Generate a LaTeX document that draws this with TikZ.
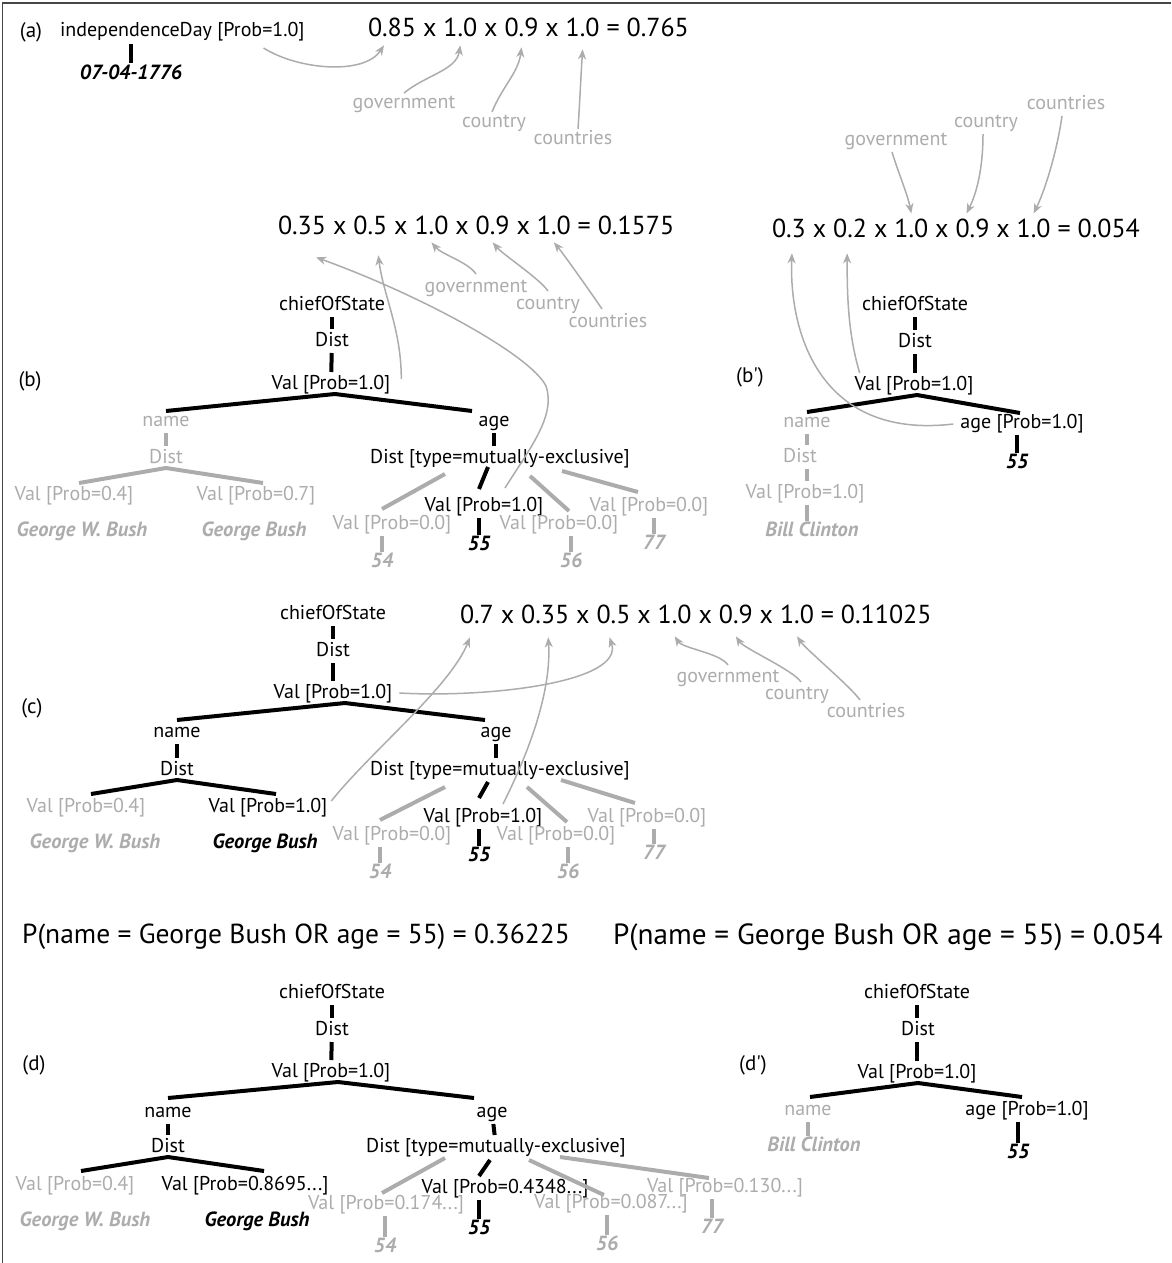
\documentclass[tikz,border=0pt]{standalone}
\usepackage{fontspec}
\setmainfont{PT Sans}
\usetikzlibrary{arrows.meta,calc}
\definecolor{lgr}{RGB}{172,172,172}
\definecolor{frm}{RGB}{70,70,70}
\newcommand\xx{\ x\ \mbox{}}
\tikzset{
 tx/.style={inner sep=1pt, outer sep=0pt, font=\fontsize{20}{20}\selectfont, text height=14pt, text depth=4pt},
 tg/.style={tx, text=lgr},
 lf/.style={inner sep=1pt, outer sep=0pt, font=\fontsize{20.5}{20.5}\selectfont\bfseries\itshape, text height=13pt, text depth=0pt},
 lfg/.style={lf, text=lgr},
 fm/.style={inner sep=0pt, outer sep=0pt, font=\fontsize{26}{26}\selectfont, anchor=base west},
 wd/.style={inner sep=1pt, outer sep=0pt, font=\fontsize{20}{20}\selectfont, text=lgr, text height=14pt, text depth=4pt},
 bb/.style={draw=black, line width=4pt, shorten <=2pt, shorten >=2pt},
 gb/.style={draw=lgr, line width=4pt, shorten <=2pt, shorten >=2pt},
 be/.style={draw=black, line width=4pt},
 ge/.style={draw=lgr, line width=4pt},
 ar/.style={draw=lgr, line width=1.5pt, -{Stealth[length=10pt,width=8pt,inset=3pt]}},
 plab/.style={inner sep=1pt, font=\fontsize{21}{21}\selectfont},
}
\begin{document}
\begin{tikzpicture}[x=1pt,y=-1pt]
\useasboundingbox (0,0) rectangle (1171,1263);
\draw[frm, line width=1.5pt] (2.5,1263) -- (2.5,3) -- (1171,3);

% ================= (a)
\node[plab] (la) at (31,32) {(a)};
\node[tx,anchor=west] (aind) at (59,32) {independenceDay [Prob=1.0]};
\node[lf] (adate) at (131,73) {07-04-1776};
\draw[bb] (aind.south -| adate) -- (adate.north);

\node[fm] (a1) at (368,37) {0.85};
\node[fm] (ax1) at (a1.base east) {\xx};
\node[fm] (a2) at (ax1.base east) {1.0};
\node[fm] (ax2) at (a2.base east) {\xx};
\node[fm] (a3) at (ax2.base east) {0.9};
\node[fm] (ax3) at (a3.base east) {\xx};
\node[fm] (a4) at (ax3.base east) {1.0};
\node[fm] (ax4) at (a4.base east) {\ =\ 0.765};

\node[wd] (ag) at (404,103) {government};
\node[wd] (acn) at (494,122) {country};
\node[wd] (acs) at (573,139) {countries};

\draw[ar] ($(aind.south east)+(-42,6)$) .. controls +(35,22) and +(-20,30) .. ($(a1.south)+(-8,8)$);
\draw[ar] (ag.north) .. controls +(22,-18) and +(-4,25) .. ($(a2.south)+(0,8)$);
\draw[ar] ($(acn.north)+(-2,0)$) .. controls +(10,-25) and +(-3,25) .. ($(a3.south)+(0,10)$);
\draw[ar] ($(acs.north)+(5,0)$) .. controls +(2,-30) and +(-2,30) .. ($(a4.south)+(0,12)$);

% ================= (b) formula
\node[fm] (b1) at (278,234) {0.35};
\node[fm] (bx1) at (b1.base east) {\xx};
\node[fm] (b2) at (bx1.base east) {0.5};
\node[fm] (bx2) at (b2.base east) {\xx};
\node[fm] (b3) at (bx2.base east) {1.0};
\node[fm] (bx3) at (b3.base east) {\xx};
\node[fm] (b4) at (bx3.base east) {0.9};
\node[fm] (bx4) at (b4.base east) {\xx};
\node[fm] (b5) at (bx4.base east) {1.0};
\node[fm] (bx5) at (b5.base east) {\ =\ 0.1575};

\node[wd] (bgov) at (476,287) {government};
\node[wd] (bcn) at (548,304) {country};
\node[wd] (bcs) at (608,322) {countries};
\draw[ar] ($(bgov.north)+(0,-3)$) .. controls +(-8,-12) and +(10,12) .. ($(b3.south)+(0,8)$);
\draw[ar] ($(bcn.north)+(0,-3)$) .. controls +(-8,-12) and +(10,12) .. ($(b4.south)+(0,8)$);
\draw[ar] ($(bcs.north)+(-6,-3)$) .. controls +(-8,-12) and +(10,12) .. ($(b5.south)+(0,8)$);

% ================= (b) tree
\node[plab] (lb) at (30,381) {(b)};
\node[tx] (bchief) at (332,305) {chiefOfState};
\node[tx] (bdist) at (332,341) {Dist};
\node[tx] (bval) at (331,384) {Val [Prob=1.0]};
\node[tg] (bname) at (166,421) {name};
\node[tx] (bage) at (494,421) {age};
\node[tg] (bndist) at (166,458) {Dist};
\node[tg] (bv04) at (74,495) {Val [Prob=0.4]};
\node[tg] (bv07) at (256,495) {Val [Prob=0.7]};
\node[lfg] (bgwb) at (82,530) {George W. Bush};
\node[lfg] (bgb) at (254,530) {George Bush};
\node[tx] (bad) at (500,458) {Dist [type=mutually-exclusive]};
\node[tx] (bv55) at (484,506) {Val [Prob=1.0]};
\node[lf] (b55) at (479,544) {55};
\node[tg] (bv54) at (392,524) {Val [Prob=0.0]};
\node[lfg] (b54) at (382,561) {54};
\node[tg] (bv56) at (559,524) {Val [Prob=0.0]};
\node[lfg] (b56) at (571,561) {56};
\node[tg] (bv77) at (649,506) {Val [Prob=0.0]};
\node[lfg] (b77) at (654,543) {77};

\draw[bb] (bchief) -- (bdist);
\draw[bb] (bdist) -- (bval);
\draw[be] (bname.north) -- ($(bval.south)+(4,0)$) -- ($(bage.north)+(-22,0)$);
\draw[gb] (bname) -- (bndist);
\draw[ge] ($(bv04.north)+(5,-2)$) -- (bndist.south) -- ($(bv07.north)+(7,-2)$);
\draw[gb] ($(bv04.south)+(3,0)$) -- ($(bv04.south)+(3,0)$ |- bgwb.north);
\draw[gb] ($(bv07.south)+(7,0)$) -- ($(bv07.south)+(7,0)$ |- bgb.north);
\draw[bb] (bage.south) -- (bage.south |- bad.north);
\draw[ge] ($(bad)+(-55,16)$) -- ($(bv54)+(-10,-15)$);
\draw[be] ($(bad)+(-12,9)$) -- ($(bv55)+(-5,-17)$);
\draw[ge] ($(bad)+(30,18)$) -- ($(bv56)+(10,-13)$);
\draw[ge] ($(bad)+(62,13)$) -- ($(bv77)+(-11,-14)$);
\draw[gb] (bv54.south -| b54) -- (b54.north);
\draw[bb] (bv55.south -| b55) -- (b55.north);
\draw[gb] (bv56.south -| b56) -- (b56.north);
\draw[gb] (bv77.south -| b77) -- (b77.north);

\draw[ar] ($(bval.east)+(10,-5)$) .. controls +(0,-50) and +(5,40) .. ($(b2.south)+(8,21)$);
\draw[ar] ($(bv55.north)+(21,-8)$) .. controls +(25,-40) and +(10,30) .. ($(bv55.north)+(62,-110)$) .. controls +(-15,-30) and +(110,40) .. ($(b1.south)+(14,23)$);

% ================= (b') formula
\node[fm] (p1) at (772,237) {0.3};
\node[fm] (px1) at (p1.base east) {\xx};
\node[fm] (p2) at (px1.base east) {0.2};
\node[fm] (px2) at (p2.base east) {\xx};
\node[fm] (p3) at (px2.base east) {1.0};
\node[fm] (px3) at (p3.base east) {\xx};
\node[fm] (p4) at (px3.base east) {0.9};
\node[fm] (px4) at (p4.base east) {\xx};
\node[fm] (p5) at (px4.base east) {1.0};
\node[fm] (px5) at (p5.base east) {\ =\ 0.054};

\node[wd] (pgov) at (896,140) {government};
\node[wd] (pcn) at (986,122) {country};
\node[wd] (pcs) at (1066,104) {countries};
\draw[ar] ($(pgov.south)+(-4,2)$) .. controls +(6,20) and +(-4,-20) .. ($(p3.north)+(0,-5)$);
\draw[ar] ($(pcn.south)+(-3,2)$) .. controls +(0,35) and +(10,-20) .. ($(p4.north)+(-6,-5)$);
\draw[ar] ($(pcs.south)+(-4,2)$) .. controls +(-5,35) and +(12,-25) .. ($(p5.north)+(0,-5)$);

% ================= (b') tree
\node[plab] (lbp) at (750,377) {(b\textquotesingle)};
\node[tx] (pchief) at (915,305) {chiefOfState};
\node[tx] (pdist) at (915,342) {Dist};
\node[tx] (pval) at (914,385) {Val [Prob=1.0]};
\node[tg] (pname) at (807,422) {name};
\node[tg] (pndist) at (800,457) {Dist};
\node[tg] (pnval) at (805,493) {Val [Prob=1.0]};
\node[lfg] (pbc) at (812,530) {Bill Clinton};
\node[tx] (page) at (1022,423) {age [Prob=1.0]};
\node[lf] (p55) at (1017,462) {55};

\draw[bb] (pchief) -- (pchief |- pdist.north);
\draw[bb] (pdist.south -| pchief) -- (pchief |- pval.north);
\draw[be] (pname.north) -- ($(pval.south)+(3,0)$) -- ($(page.north)+(-2,0)$);
\draw[gb] (pname) -- (pname |- pndist.north);
\draw[gb] (pndist.south -| pname) -- (pname |- pnval.north);
\draw[gb] (pnval.south -| pname) -- (pname |- pbc.north);
\draw[bb] (page.south -| p55) -- (p55.north);

\draw[ar] ($(page.west)+(-6,1)$) .. controls +(-135,16) and +(-3,77) .. ($(p1.south)+(3,16)$);
\draw[ar] ($(pval.north west)+(6,-2)$) .. controls +(-12,-40) and +(0,40) .. ($(p2.south)+(-3,16)$);

% ================= (c) formula
\node[fm] (c1) at (460,623) {0.7};
\node[fm] (cx1) at (c1.base east) {\xx};
\node[fm] (c2) at (cx1.base east) {0.35};
\node[fm] (cx2) at (c2.base east) {\xx};
\node[fm] (c3) at (cx2.base east) {0.5};
\node[fm] (cx3) at (c3.base east) {\xx};
\node[fm] (c4) at (cx3.base east) {1.0};
\node[fm] (cx4) at (c4.base east) {\xx};
\node[fm] (c5) at (cx4.base east) {0.9};
\node[fm] (cx5) at (c5.base east) {\xx};
\node[fm] (c6) at (cx5.base east) {1.0};
\node[fm] (cx6) at (c6.base east) {\ =\ 0.11025};

\node[wd] (cgov) at (728,677) {government};
\node[wd] (ccn) at (797,694) {country};
\node[wd] (ccs) at (866,712) {countries};
\draw[ar] ($(cgov.north)+(0,-2)$) .. controls +(-8,-12) and +(8,12) .. ($(c4.south)+(0,13)$);
\draw[ar] ($(ccn.north)+(4,-2)$) .. controls +(-8,-12) and +(8,12) .. ($(c5.south)+(0,13)$);
\draw[ar] ($(ccs.north)+(-6,-2)$) .. controls +(-8,-12) and +(8,12) .. ($(c6.south)+(0,13)$);

% ================= (c) tree
\node[plab] (lc) at (32,708) {(c)};
\node[tx] (cchief) at (333,614) {chiefOfState};
\node[tx] (cdist) at (333,651) {Dist};
\node[tx] (cval) at (333,693) {Val [Prob=1.0]};
\node[tx] (cname) at (177,732) {name};
\node[tx] (cage) at (496,732) {age};
\node[tx] (cndist) at (177,770) {Dist};
\node[tg] (cv04) at (86,807) {Val [Prob=0.4]};
\node[lfg] (cgwb) at (95,842) {George W. Bush};
\node[tx] (cv10) at (268,807) {Val [Prob=1.0]};
\node[lf] (cgb) at (265,842) {George Bush};
\node[tx] (cad) at (500,770) {Dist [type=mutually-exclusive]};
\node[tx] (cv55) at (483,817) {Val [Prob=1.0]};
\node[lf] (c55) at (479,855) {55};
\node[tg] (cv54) at (392,835) {Val [Prob=0.0]};
\node[lfg] (c54) at (380,872) {54};
\node[tg] (cv56) at (556,835) {Val [Prob=0.0]};
\node[lfg] (c56) at (568,872) {56};
\node[tg] (cv77) at (647,817) {Val [Prob=0.0]};
\node[lfg] (c77) at (654,853) {77};

\draw[bb] (cchief) -- (cdist);
\draw[bb] (cdist) -- (cval);
\draw[be] ($(cname.north)+(0,-2)$) -- ($(cval.south)+(12,0)$) -- ($(cage.north)+(-11,-2)$);
\draw[bb] (cname) -- (cndist);
\draw[bb] (cage.south) -- (cage.south |- cad.north);
\draw[be] ($(cv04.north)+(5,-3)$) -- (cndist.south) -- ($(cv10.north)+(8,-3)$);
\draw[gb] ($(cv04.south)+(5,0)$) -- ($(cv04.south)+(5,0)$ |- cgwb.north);
\draw[bb] ($(cv10.south)+(6,0)$) -- ($(cv10.south)+(6,0)$ |- cgb.north);
\draw[ge] ($(cad)+(-55,17)$) -- ($(cv54)+(-12,-15)$);
\draw[be] ($(cad)+(-12,12)$) -- ($(cv55)+(-4,-19)$);
\draw[ge] ($(cad)+(27,17)$) -- ($(cv56)+(11,-13)$);
\draw[ge] ($(cad)+(61,10)$) -- ($(cv77)+(-12,-14)$);
\draw[gb] (cv54.south -| c54) -- (c54.north);
\draw[bb] (cv55.south -| c55) -- (c55.north);
\draw[gb] (cv56.south -| c56) -- (c56.north);
\draw[gb] (cv77.south -| c77) -- (c77.north);

\draw[ar] ($(cval.east)+(6,0)$) .. controls +(90,5) and +(15,45) .. ($(c3.south)+(-4,14)$);
\draw[ar] ($(cv10.east)+(3,-6)$) .. controls +(40,-50) and +(-20,50) .. ($(c1.south)+(-7,14)$);
\draw[ar] ($(cv55.north)+(20,-3)$) .. controls +(30,-60) and +(3,50) .. ($(c2.south)+(3,14)$);

% ================= P lines
\node[inner sep=1pt, font=\fontsize{27.5}{27.5}\selectfont] (pl1) at (296,937) {P(name = George Bush OR age = 55) = 0.36225};
\node[inner sep=1pt, font=\fontsize{29.2}{29.2}\selectfont] (pl2) at (888,937) {P(name = George Bush OR age = 55) = 0.054};

% ================= (d) tree
\node[plab] (ld) at (34,1065) {(d)};
\node[tx] (dchief) at (332,993) {chiefOfState};
\node[tx] (ddist) at (332,1030) {Dist};
\node[tx] (dval) at (331,1072) {Val [Prob=1.0]};
\node[tx] (dname) at (168,1112) {name};
\node[tx] (dage) at (492,1112) {age};
\node[tx] (dndist) at (168,1147) {Dist};
\node[tg] (dv04) at (75,1185) {Val [Prob=0.4]};
\node[lfg] (dgwb) at (85,1220) {George W. Bush};
\node[tx] (dv08) at (245,1185) {Val [Prob=0.8695...]};
\node[lf] (dgb) at (257,1220) {George Bush};
\node[tx] (dad) at (496,1147) {Dist [type=mutually-exclusive]};
\node[tx] (dv55) at (505,1188) {Val [Prob=0.4348...]};
\node[lf] (d55) at (479,1228) {55};
\node[tg] (dv54) at (386,1204) {Val [Prob=0.174...]};
\node[lfg] (d54) at (385,1246) {54};
\node[tg] (dv56) at (611,1203) {Val [Prob=0.087...]};
\node[lfg] (d56) at (607,1244) {56};
\node[tg] (dv77) at (725,1187) {Val [Prob=0.130...]};
\node[lfg] (d77) at (712,1227) {77};

\draw[bb] (dchief) -- (ddist);
\draw[bb] (ddist) -- (dval);
\draw[be] ($(dname.north)+(0,-4)$) -- ($(dval.south)+(7,0)$) -- ($(dage.north)+(-18,-4)$);
\draw[bb] (dname) -- (dndist);
\draw[bb] (dage) -- (dad);
\draw[be] ($(dv04.north)+(6,-4)$) -- (dndist.south) -- ($(dv08.north)+(19,-4)$);
\draw[gb] ($(dv04.south)+(6,0)$) -- ($(dv04.south)+(6,0)$ |- dgwb.north);
\draw[bb] ($(dv08.south)+(19,0)$) -- ($(dv08.south)+(19,0)$ |- dgb.north);
\draw[ge] ($(dad)+(-51,11)$) -- ($(dv54)+(-4,-11)$);
\draw[be] ($(dad)+(-6,13)$) -- ($(dv55)+(-26,-12)$);
\draw[ge] ($(dad)+(33,13)$) -- ($(dv56)+(-7,-8)$);
\draw[ge] ($(dad)+(64,10)$) -- ($(dv77)+(-16,-9)$);
\draw[gb] (dv54.south -| d54) -- (d54.north);
\draw[bb] (dv55.south -| d55) -- (d55.north);
\draw[gb] (dv56.south -| d56) -- (d56.north);
\draw[gb] (dv77.south -| d77) -- (d77.north);

% ================= (d') tree
\node[plab] (ldp) at (753,1065) {(d\textquotesingle)};
\node[tx] (qchief) at (917,993) {chiefOfState};
\node[tx] (qdist) at (918,1030) {Dist};
\node[tx] (qval) at (917,1073) {Val [Prob=1.0]};
\node[tg] (qname) at (808,1110) {name};
\node[lfg] (qbc) at (814,1145) {Bill Clinton};
\node[tx] (qage) at (1027,1110) {age [Prob=1.0]};
\node[lf] (q55) at (1018,1152) {55};

\draw[bb] (qchief) -- (qchief |- qdist.north);
\draw[bb] (qdist.south -| qchief) -- (qchief |- qval.north);
\draw[be] ($(qname.north)+(2,-3)$) -- ($(qval.south)+(1,0)$) -- ($(qage.north)+(-5,-3)$);
\draw[gb] (qname) -- (qname |- qbc.north);
\draw[bb] (qage.south -| q55) -- (q55.north);
\end{tikzpicture}
\end{document}
